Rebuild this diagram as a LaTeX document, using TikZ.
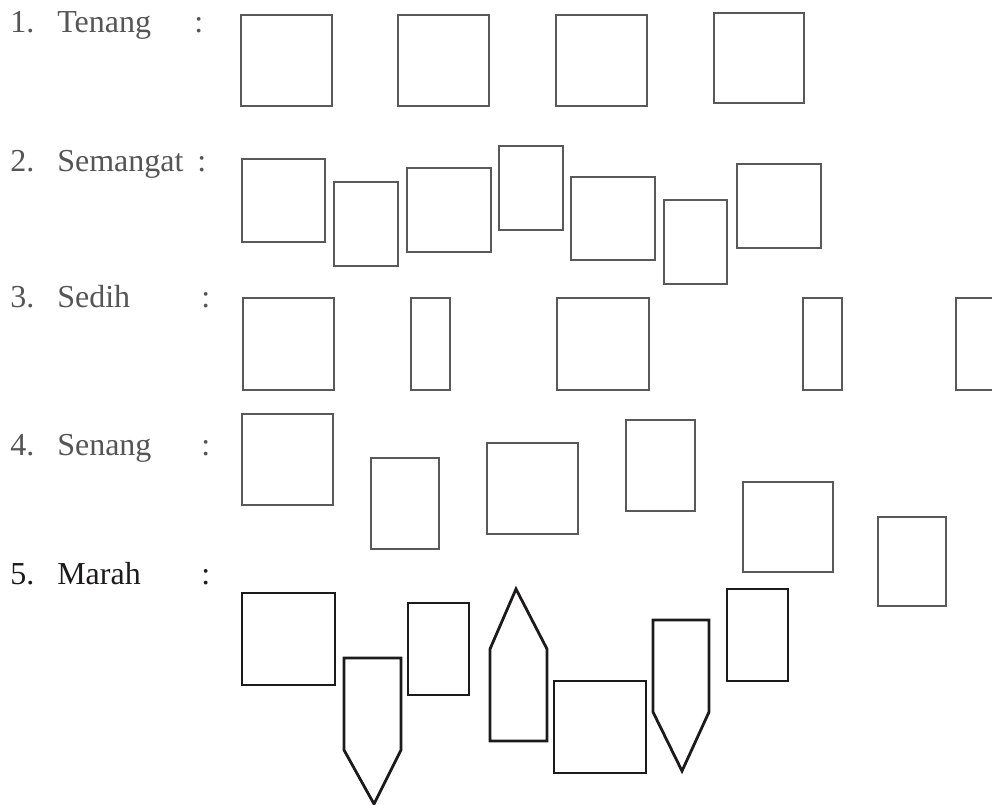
\documentclass[tikz,border=0pt]{standalone}
\usepackage{fontspec}
\setmainfont{Liberation Serif}
\usepackage{xcolor}
\usetikzlibrary{positioning}

\definecolor{inkgray}{HTML}{5A5858}
\definecolor{txtgray}{HTML}{555555}
\definecolor{inkdark}{HTML}{1C1A1A}

\begin{document}
\begin{tikzpicture}[
    x=0.75pt, y=-0.75pt,
    label/.style={font=\fontsize{24}{28}\selectfont, text=txtgray, anchor=base west, inner sep=0pt},
    darklabel/.style={label, text=inkdark},
    frame/.style={draw=inkgray, line width=1.6pt, line join=miter},
    darkframe/.style={draw=inkdark, line width=2.1pt, line join=miter},
  ]
  \useasboundingbox (0,0) rectangle (992,805);
  \clip (0,0) rectangle (992,805);

  % ---------------- Labels ----------------
  \foreach \n/\name/\yy/\cx in {1/Tenang/33/194, 2/Semangat/172/197, 3/Sedih/308/201, 4/Senang/455/201} {
    \node[label] (num\n) at (10,\yy) {\n.};
    \node[label] (name\n) at (57,\yy) {\name};
    \node[label] (colon\n) at (\cx,\yy) {:};
  }
  \node[darklabel] (num5)   at (10,584)  {5.};
  \node[darklabel] (name5)  at (57,584)  {Marah};
  \node[darklabel] (colon5) at (201,584) {:};

  % ---------------- 1. Tenang ----------------
  \foreach \xa/\ya/\xb/\yb in {241/15/332/106, 398/15/489/106, 556/15/647/106, 714/13/804/103}
    \draw[frame] (\xa,\ya) rectangle (\xb,\yb);

  % ---------------- 2. Semangat ----------------
  \foreach \xa/\ya/\xb/\yb in {242/159/325/242, 334/182/398/266, 407/168/491/252, 499/146/563/230,
                               571/177/655/260, 664/200/727/284, 737/164/821/248}
    \draw[frame] (\xa,\ya) rectangle (\xb,\yb);

  % ---------------- 3. Sedih ----------------
  \foreach \xa/\ya/\xb/\yb in {243/298/334/390, 411/298/450/390, 557/298/649/390, 803/298/842/390,
                               956/298/1047/390}
    \draw[frame] (\xa,\ya) rectangle (\xb,\yb);

  % ---------------- 4. Senang ----------------
  \foreach \xa/\ya/\xb/\yb in {242/414/333/505, 371/458/439/549, 487/443/578/534, 626/420/695/511,
                               743/482/833/572, 878/517/946/606}
    \draw[frame] (\xa,\ya) rectangle (\xb,\yb);

  % ---------------- 5. Marah ----------------
  \foreach \xa/\ya/\xb/\yb in {242/593/335/685, 408/603/469/695, 554/681/646/773, 727/589/788/681}
    \draw[darkframe] (\xa,\ya) rectangle (\xb,\yb);
  \draw[darkframe] (344,658) -- (401,658) -- (401,750) -- (374,804) -- (344,750) -- cycle;   % down
  \draw[darkframe] (490,741) -- (547,741) -- (547,649) -- (516,589) -- (490,649) -- cycle;   % up
  \draw[darkframe] (653,620) -- (709,620) -- (709,712) -- (682,771) -- (653,712) -- cycle;   % down
\end{tikzpicture}
\end{document}
